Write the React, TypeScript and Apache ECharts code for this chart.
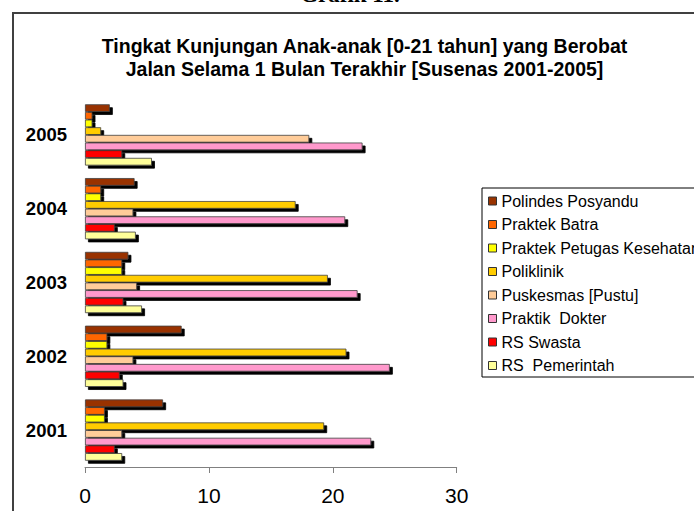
import React, { useEffect, useRef } from "react";
import * as echarts from "echarts";

const years = ["2001", "2002", "2003", "2004", "2005"];
const seriesNames = [
  "Polindes Posyandu",
  "Praktek Batra",
  "Praktek Petugas Kesehatan",
  "Poliklinik",
  "Puskesmas [Pustu]",
  "Praktik  Dokter",
  "RS Swasta",
  "RS  Pemerintah",
];
const polindes = [6.3, 7.8, 3.5, 4.0, 2.0];
const batra = [1.6, 1.8, 3.0, 1.3, 0.6];
const petugas = [1.6, 1.8, 3.0, 1.3, 0.6];
const poliklinik = [19.3, 21.1, 19.6, 17.0, 1.3];
const puskesmas = [3.0, 3.9, 4.2, 3.9, 18.1];
const dokter = [23.1, 24.6, 22.0, 21.0, 22.4];
const swasta = [2.4, 2.8, 3.1, 2.4, 3.0];
const pemerintah = [3.0, 3.1, 4.6, 4.1, 5.4];
const xTicks = [0, 10, 20, 30];

const seriesValues = [polindes, batra, petugas, poliklinik, puskesmas, dokter, swasta, pemerintah];
const colors = ["#993300", "#FF6600", "#FFFF00", "#FFCC00", "#FFCC99", "#FF99CC", "#FF0000", "#FFFF99"];

const FONT = "'Liberation Sans', Arial, sans-serif";

export default function App() {
  const ref = useRef<HTMLDivElement>(null);
  useEffect(() => {
    if (!ref.current) return;
    const chart = echarts.init(ref.current, null, { renderer: "svg" });
    chart.setOption({
      animation: false,
      backgroundColor: "#ffffff",
      textStyle: { fontFamily: FONT },
      title: {
        text: "Tingkat Kunjungan Anak-anak [0-21 tahun] yang Berobat\nJalan Selama 1 Bulan Terakhir [Susenas 2001-2005]",
        left: 359.5,
        top: 29.5,
        textAlign: "center",
        textStyle: { fontFamily: FONT, fontSize: 19.5, fontWeight: "bold", color: "#000", lineHeight: 23 },
      },
      graphic: [
        {
          type: "rect",
          z: -10,
          shape: { x: 13, y: 13, width: 900, height: 700 },
          style: { fill: "none", stroke: "#404040", lineWidth: 2 },
          silent: true,
        },
        {
          type: "text",
          x: 350,
          y: -6,
          style: {
            text: "Grafik 11.",
            fontFamily: "'Liberation Serif', 'Times New Roman', serif",
            fontSize: 23,
            fontWeight: "bold",
            fill: "#000",
            align: "center",
            verticalAlign: "middle",
          },
          silent: true,
        },
      ],
      legend: {
        orient: "vertical",
        left: 482,
        top: 188,
        padding: [5, 6, 3.5, 6],
        itemGap: 7.5,
        itemWidth: 8,
        itemHeight: 8,
        icon: "rect",
        borderColor: "#000",
        borderWidth: 1,
        backgroundColor: "#fff",
        selectedMode: false,
        data: seriesNames,
        itemStyle: {
          borderColor: "#333",
          borderWidth: 1,
          shadowBlur: 0,
          shadowOffsetX: 0,
          shadowOffsetY: 0,
          shadowColor: "transparent",
        },
        textStyle: { fontFamily: FONT, fontSize: 16, color: "#000" },
      },
      grid: { left: 85, top: 98, width: 371.7, height: 369, containLabel: false },
      xAxis: {
        type: "value",
        min: xTicks[0],
        max: xTicks[xTicks.length - 1],
        interval: 10,
        splitLine: { show: false },
        axisLine: { show: true, lineStyle: { color: "#808080", width: 1 } },
        axisTick: { show: true, length: 6, lineStyle: { color: "#808080" } },
        axisLabel: { fontFamily: FONT, fontSize: 21, color: "#000", margin: 18 },
      },
      yAxis: {
        type: "category",
        data: years,
        axisLine: { show: false },
        axisTick: { show: false },
        axisLabel: { fontFamily: FONT, fontSize: 18.5, fontWeight: "bold", color: "#000", margin: 18 },
      },
      series: seriesNames.map((name, i) => ({
        name,
        type: "bar",
        data: seriesValues[i],
        barGap: "0%",
        barCategoryGap: "17%",
        itemStyle: {
          color: colors[i],
          borderColor: "#404040",
          borderWidth: 0.8,
          shadowColor: "#000",
          shadowBlur: 0,
          shadowOffsetX: 3,
          shadowOffsetY: 3,
        },
        emphasis: { disabled: true },
      })),
    });
    return () => chart.dispose();
  }, []);
  return (
    <div style={{ position: "fixed", left: 0, top: 0, width: 694, height: 511, overflow: "hidden", background: "#fff" }}>
      <div ref={ref} style={{ width: 694, height: 511 }} />
    </div>
  );
}
